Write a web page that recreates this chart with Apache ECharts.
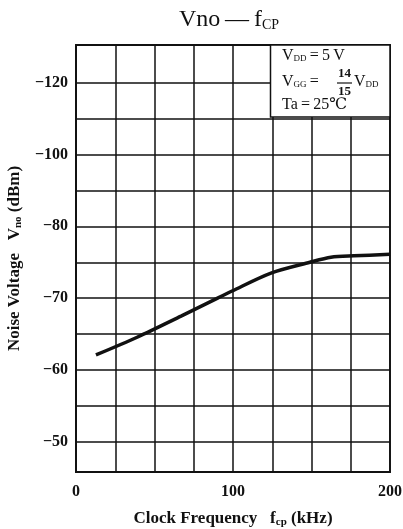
<!DOCTYPE html>
<html><head><meta charset="utf-8">
<script src="https://cdn.jsdelivr.net/npm/echarts@6/dist/echarts.min.js"></script>
<style>html,body{margin:0;padding:0;background:#fff}#c{width:403px;height:529px}</style>
</head><body><div id="c"></div>
<script>
// data: clock frequency (kHz) vs noise voltage (dBm)
const freqKHz = [12.7, 39.3, 66.9, 90.2, 99.4, 124.2, 149, 162.4, 177, 200];
const noiseDbm = [-62.1, -64.6, -67.5, -70.0, -71.0, -73.5, -75.0, -75.7, -75.9, -76.1];
// grid lines and tick labels as printed on the original sheet
const yGridValues = [-100, -95, -90, -85, -80, -75, -70, -65, -60, -55, -50];
const yTickValues = [-100, -90, -80, -70, -60, -50];
const yTickLabels = ['\u2212120', '\u2212100', '\u221280', '\u221270', '\u221260', '\u221250'];
const xTickValues = [0, 100, 200];
const xTickLabels = ['0', '100', '200'];

const serif = '"Liberation Serif","DejaVu Serif",serif';
const chart = echarts.init(document.getElementById('c'), null, {renderer: 'canvas'});
const ink = '#111';
const nameRich = {
  a: {fontFamily: serif, fontSize: 17, fontWeight: 'bold', color: ink},
  s: {fontFamily: serif, fontSize: 11, color: ink, fontWeight: 'bold', padding: [8, 0, 0, 0]}
};
const boxRich = {
  a: {fontFamily: serif, fontSize: 16, fill: ink},
  s: {fontFamily: serif, fontSize: 9, fill: ink, padding: [6, 0, 0, 0]}
};
chart.setOption({
  animation: false,
  backgroundColor: '#fff',
  grid: {left: 76, right: 13, top: 45, bottom: 57, containLabel: false, outerBoundsMode: 'none',
    show: true, borderColor: ink, borderWidth: 1.8, backgroundColor: 'transparent'},
  xAxis: {
    type: 'value', min: 0, max: 200, interval: 25,
    axisLine: {show: true, onZero: false, lineStyle: {color: ink, width: 1.8}},
    axisTick: {show: false},
    splitLine: {show: true, lineStyle: {color: ink, width: 1.5}},
    axisLabel: {
      margin: 12, color: ink, fontFamily: serif, fontSize: 16, fontWeight: 'bold',
      formatter: v => { const i = xTickValues.indexOf(v); return i >= 0 ? xTickLabels[i] : ''; }
    },
    name: '{a|Clock Frequency   f}{s|cp}{a| (kHz)}',
    nameLocation: 'middle', nameGap: 37,
    nameTextStyle: {rich: nameRich}
  },
  yAxis: {
    type: 'value', inverse: true, min: -105.25, max: -45.8,
    axisLine: {show: true, onZero: false, lineStyle: {color: ink, width: 1.8}},
    axisTick: {show: false, customValues: yGridValues},
    splitLine: {show: true, lineStyle: {color: ink, width: 1.5}},
    axisLabel: {
      customValues: yTickValues,
      margin: 8, color: ink, fontFamily: serif, fontSize: 16, fontWeight: 'bold',
      formatter: v => { const i = yTickValues.indexOf(v); return i >= 0 ? yTickLabels[i] : ''; }
    },
    name: '{a|Noise Voltage   V}{s|no}{a| (dBm)}',
    nameLocation: 'middle', nameGap: 50, nameRotate: 90,
    nameTextStyle: {rich: nameRich}
  },
  series: [{
    type: 'line', smooth: 0.3, showSymbol: false,
    data: freqKHz.map((f, i) => [f, noiseDbm[i]]),
    lineStyle: {color: ink, width: 3.5}
  }],
  graphic: [
    {type: 'text', x: 229, y: 8, z: 100,
      style: {text: '{a|Vno\u2009\u2014\u2009f}{s|CP}', align: 'center', fill: ink,
        rich: {a: {fontFamily: serif, fontSize: 24, fill: ink},
               s: {fontFamily: serif, fontSize: 14, fill: ink, padding: [10, 0, 0, 0]}}}},
    {type: 'rect', shape: {x: 270.5, y: 45, width: 119.5, height: 72}, z: 100,
      style: {fill: '#fff', stroke: ink, lineWidth: 1.5}},
    {type: 'text', x: 282, y: 48, z: 101,
      style: {text: '{a|V}{s|DD}{a|\u2009=\u20095\u2009V}', fill: ink, rich: boxRich}},
    {type: 'text', x: 282, y: 74, z: 101,
      style: {text: '{a|V}{s|GG}{a|\u2009=}', fill: ink, rich: boxRich}},
    {type: 'text', x: 338, y: 67, z: 101,
      style: {text: '14', fill: ink, font: 'bold 13px ' + serif}},
    {type: 'line', shape: {x1: 337, y1: 83, x2: 352, y2: 83}, z: 101, style: {stroke: ink, lineWidth: 1.2}},
    {type: 'text', x: 338, y: 85, z: 101,
      style: {text: '15', fill: ink, font: 'bold 13px ' + serif}},
    {type: 'text', x: 354, y: 74, z: 101,
      style: {text: '{a|V}{s|DD}', fill: ink, rich: boxRich}},
    {type: 'text', x: 282, y: 97, z: 101,
      style: {text: 'Ta\u2009=\u200925\u2103', fill: ink, font: '16px ' + serif}}
  ]
});
</script></body></html>
